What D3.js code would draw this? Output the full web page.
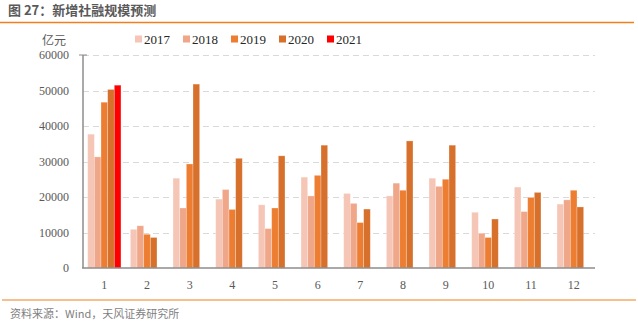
<!DOCTYPE html>
<html><head><meta charset="utf-8">
<script src="https://cdn.jsdelivr.net/npm/d3@7"></script>
<style>body{margin:0;background:#fff}svg{display:block}</style>
</head><body><svg id="c" width="638" height="324"></svg>
<script>
const months = ["1","2","3","4","5","6","7","8","9","10","11","12"];
const years = ["2017","2018","2019","2020","2021"];
const s2017 = [37700,10900,25300,19400,17800,25600,21000,20300,25300,15700,22800,18000];
const s2018 = [31300,11900,16900,22100,11100,20300,18200,23900,23000,9800,15900,19200];
const s2019 = [46700,9500,29300,16500,16900,26100,12800,21900,25000,8600,19900,21900];
const s2020 = [50300,8600,51800,30900,31600,34600,16600,35800,34600,13800,21300,17200];
const s2021 = [51500,null,null,null,null,null,null,null,null,null,null,null];
const yTicks = [0,10000,20000,30000,40000,50000,60000];
const colors = ["#F5C6B6","#F0A688","#ED7D31","#D6702B","#FF0000"];
const series = [s2017,s2018,s2019,s2020,s2021];

const svg = d3.select("#c");
const L=83, R=595, T=55, B=268;
const x = d3.scaleBand().domain(months).range([L,R]).paddingInner(0.22).paddingOuter(0.11);
const xs = d3.scaleBand().domain(years).range([0,x.bandwidth()]);
const y = d3.scaleLinear().domain([0,60000]).range([B,T]);

// title
svg.append("text").attr("x",8).attr("y",15).attr("font-family","'Noto Sans CJK SC'")
  .attr("font-weight","bold").attr("font-size",13).attr("fill","#595959").text("图 27：新增社融规模预测");
svg.append("line").attr("x1",0).attr("x2",634).attr("y1",22.5).attr("y2",22.5).attr("stroke","#F07F1E").attr("stroke-width",1.5);

// grid
svg.append("g").selectAll("line").data(yTicks.filter(d=>d>0)).join("line")
  .attr("x1",L).attr("x2",R).attr("y1",d=>Math.round(y(d))+0.5).attr("y2",d=>Math.round(y(d))+0.5)
  .attr("stroke","#D9D9D9").attr("stroke-width",1).attr("stroke-dasharray","6,4");

// bars
years.forEach((yr,i)=>{
  svg.append("g").selectAll("rect").data(months.map((m,j)=>({m,v:series[i][j]})).filter(d=>d.v!=null)).join("rect")
    .attr("x",d=>x(d.m)+xs(yr)).attr("width",xs.bandwidth())
    .attr("y",d=>y(d.v)).attr("height",d=>B-y(d.v))
    .attr("fill",colors[i]).attr("stroke","rgba(255,255,255,0.35)").attr("stroke-width",0.8);
});

// axes
const ya = svg.append("g").attr("transform",`translate(${L},0)`)
  .call(d3.axisLeft(y).tickValues(yTicks).tickSize(0).tickPadding(14).tickFormat(d3.format("d")));
ya.select(".domain").remove();
ya.selectAll("text").attr("font-family","'Liberation Serif'").attr("font-size",12).attr("fill","#595959");
svg.append("line").attr("x1",L).attr("x2",L).attr("y1",T).attr("y2",B).attr("stroke","#8C8C8C").attr("stroke-width",1.5);
svg.append("line").attr("x1",L-4).attr("x2",L+4).attr("y1",T).attr("y2",T).attr("stroke","#8C8C8C").attr("stroke-width",1);
const xa = svg.append("g").attr("transform",`translate(0,${B})`)
  .call(d3.axisBottom(x).tickSize(0).tickPadding(12));
xa.select(".domain").remove();
xa.selectAll("text").attr("font-family","'Liberation Serif'").attr("font-size",12).attr("fill","#595959");
svg.append("line").attr("x1",L-1).attr("x2",R).attr("y1",B).attr("y2",B).attr("stroke","#8C8C8C").attr("stroke-width",1.5);

// unit
svg.append("text").attr("x",54).attr("y",45).attr("text-anchor","middle").attr("font-family","'Noto Sans CJK SC'")
  .attr("font-size",12).attr("fill","#595959").text("亿元");

// legend
const lg = svg.append("g").selectAll("g").data(years).join("g")
  .attr("transform",(d,i)=>`translate(${135+i*48},39)`);
lg.append("rect").attr("x",0).attr("y",-3.5).attr("width",7).attr("height",7).attr("fill",(d,i)=>colors[i]);
lg.append("text").attr("x",9).attr("y",4.5).attr("font-family","'Liberation Serif'").attr("font-size",13)
  .attr("fill","#262626").text(d=>d);

// footer
svg.append("line").attr("x1",2).attr("x2",636).attr("y1",300).attr("y2",300).attr("stroke","#F07F1E").attr("stroke-width",1.2);
svg.append("text").attr("x",10).attr("y",318).attr("font-family","'Noto Sans CJK SC'")
  .attr("font-size",11).attr("fill","#7F7F7F").text("资料来源：Wind，天风证券研究所");
</script></body></html>
